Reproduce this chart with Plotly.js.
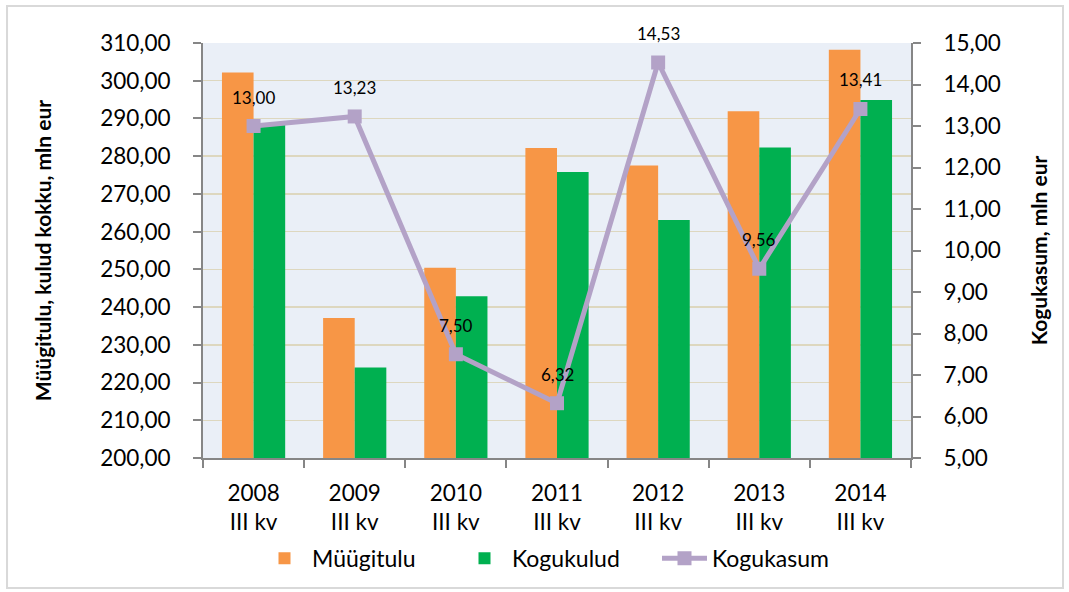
<!DOCTYPE html>
<html><head><meta charset="utf-8">
<script src="https://cdn.plot.ly/plotly-3.0.1.min.js"></script>
<style>html,body{margin:0;padding:0;background:#fff}#c{width:1069px;height:592px}</style>
</head><body><div id="c"></div>
<script>
const years = ['2008','2009','2010','2011','2012','2013','2014'];
const quarter = 'III kv';
const categories = years.map(y => y + '<br>' + quarter);
const myygitulu = [302.2, 237.1, 250.4, 282.2, 277.5, 291.9, 308.2];
const kogukulud = [288.5, 224.0, 242.9, 275.8, 263.1, 282.3, 294.9];
const kogukasum = [13.00, 13.23, 7.50, 6.32, 14.53, 9.56, 13.41];
const kasumLabels = ['13,00','13,23','7,50','6,32','14,53','9,56','13,41'];

const FONT = 'Lato, "Open Sans", sans-serif';
const data = [
  {type:'bar', name:'Müügitulu', x:categories, y:myygitulu, marker:{color:'#f79646'}, hoverinfo:'none'},
  {type:'bar', name:'Kogukulud', x:categories, y:kogukulud, marker:{color:'#00b050'}, hoverinfo:'none'},
  {type:'scatter', mode:'lines+markers', name:'Kogukasum', x:categories, y:kogukasum, yaxis:'y2',
   line:{color:'#b3a2c7', width:5}, marker:{symbol:'square', size:14, color:'#b3a2c7'}, hoverinfo:'none'}
];
const annotations = categories.map((c,i) => ({
  x:c, y:kogukasum[i], xref:'x', yref:'y2', text:kasumLabels[i], showarrow:false,
  yshift:29, font:{family:FONT, size:17, color:'#000'}
}));
const layout = {
  width:1069, height:592,
  margin:{l:203, r:158, t:43, b:134, autoexpand:false},
  paper_bgcolor:'#ffffff', plot_bgcolor:'#eaeff7',
  separators:', ',
  font:{family:FONT, color:'#000'},
  barmode:'group', bargap:0.375, bargroupgap:0,
  showlegend:true,
  legend:{orientation:'h', x:0.5, xanchor:'center', y:-0.19, yanchor:'top',
          font:{family:FONT, size:23}, traceorder:'normal', itemwidth:45, entrywidth:140},
  xaxis:{type:'category', showgrid:false, showline:true, linecolor:'#868686', linewidth:2,
         ticks:'outside', ticklen:8, tickcolor:'#868686', tickwidth:2, tickson:'boundaries',
         ticklabelstandoff:14,
         tickfont:{family:FONT, size:22.5}, mirror:false},
  yaxis:{range:[200,310], dtick:10, tick0:200, tickformat:'.2f', showgrid:true, gridcolor:'#ddd7bf', gridwidth:1.5,
         showline:true, linecolor:'#868686', linewidth:2, ticks:'outside', ticklen:8, tickcolor:'#868686', tickwidth:2,
         ticklabelstandoff:18,
         tickfont:{family:FONT, size:22.5}, zeroline:false,
         title:{text:'<b>Müügitulu, kulud kokku, mln eur</b>', font:{family:FONT, size:21}, standoff:43}},
  yaxis2:{overlaying:'y', side:'right', range:[5,15], dtick:1, tick0:5, tickformat:'.2f', showgrid:false,
          showline:true, linecolor:'#868686', linewidth:2, ticks:'outside', ticklen:8, tickcolor:'#868686', tickwidth:2,
          ticklabelstandoff:18,
          tickfont:{family:FONT, size:22.5}, zeroline:false,
          title:{text:'<b>Kogukasum, mln eur</b>', font:{family:FONT, size:21}, standoff:32}},
  annotations:annotations,
  shapes:[{type:'rect', xref:'paper', yref:'paper', x0:-0.2768, x1:1.2147, y0:-0.313, y1:1.089,
           line:{color:'#d9d9d9', width:2}, fillcolor:'rgba(0,0,0,0)', layer:'below'}]
};
Plotly.newPlot('c', data, layout, {staticPlot:true});
</script></body></html>
